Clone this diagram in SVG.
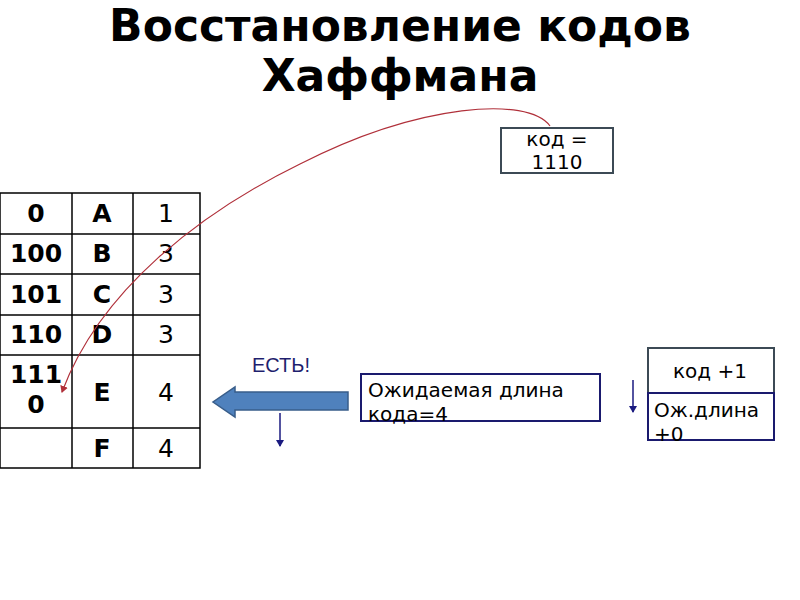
<svg xmlns="http://www.w3.org/2000/svg" width="800" height="600" viewBox="0 0 800 600">
<defs>
<style>
.title{font-family:"DejaVu Sans",sans-serif;font-weight:bold;font-size:44px;fill:#000;text-anchor:middle}
.cb{font-family:"DejaVu Sans",sans-serif;font-weight:bold;font-size:25px;fill:#000;text-anchor:middle}
.cn{font-family:"DejaVu Sans",sans-serif;font-size:25px;fill:#000;text-anchor:middle}
.t{font-family:"DejaVu Sans",sans-serif;font-size:20px;fill:#000}
.grid{stroke:#000;stroke-width:1.5;fill:none}
</style>
<marker id="red" markerWidth="8" markerHeight="8" refX="6" refY="4" orient="auto" markerUnits="userSpaceOnUse">
<path d="M0,0 L7,4 L0,8 Z" fill="#b0303a"/>
</marker>
<marker id="navy" markerWidth="8" markerHeight="8" refX="6" refY="4" orient="auto" markerUnits="userSpaceOnUse">
<path d="M0,0 L7,4 L0,8 Z" fill="#1a1a80"/>
</marker>
</defs>
<rect width="800" height="600" fill="#fff"/>
<g id="title">
<text class="title" x="400" y="41">Восстановление кодов</text>
<text class="title" x="400" y="91">Хаффмана</text>
</g>
<g id="table">
<rect class="grid" x="0" y="193" width="200" height="275"/>
<line class="grid" x1="72" y1="193" x2="72" y2="468"/>
<line class="grid" x1="133" y1="193" x2="133" y2="468"/>
<line class="grid" x1="0" y1="234" x2="200" y2="234"/>
<line class="grid" x1="0" y1="274" x2="200" y2="274"/>
<line class="grid" x1="0" y1="315" x2="200" y2="315"/>
<line class="grid" x1="0" y1="355" x2="200" y2="355"/>
<line class="grid" x1="0" y1="428" x2="200" y2="428"/>
<text class="cb" x="36" y="222">0</text>
<text class="cb" x="102" y="222">A</text>
<text class="cn" x="166" y="222">1</text>
<text class="cb" x="36" y="262">100</text>
<text class="cb" x="102" y="262">B</text>
<text class="cn" x="166" y="262">3</text>
<text class="cb" x="36" y="303">101</text>
<text class="cb" x="102" y="303">C</text>
<text class="cn" x="166" y="303">3</text>
<text class="cb" x="36" y="343">110</text>
<text class="cb" x="102" y="343">D</text>
<text class="cn" x="166" y="343">3</text>
<text class="cb" x="36" y="383">111</text>
<text class="cb" x="36" y="413">0</text>
<text class="cb" x="102" y="401">E</text>
<text class="cn" x="166" y="401">4</text>
<text class="cb" x="102" y="457">F</text>
<text class="cn" x="166" y="457">4</text>
</g>
<g id="code-box">
<rect x="501" y="128" width="112" height="45" fill="#fff" stroke="#3c4a55" stroke-width="2"/>
<text class="t" x="557" y="146" text-anchor="middle">код =</text>
<text class="t" x="557" y="169" text-anchor="middle">1110</text>
</g>
<g id="expected-box">
<rect x="361" y="374" width="239" height="47" fill="none" stroke="#1a1a6e" stroke-width="2"/>
<text class="t" x="368" y="397">Ожидаемая длина</text>
<text class="t" x="368" y="421">кода=4</text>
</g>
<g id="right-box">
<rect x="648" y="348" width="126" height="45" fill="none" stroke="#3c4a55" stroke-width="2"/>
<rect x="648" y="393" width="126" height="47" fill="none" stroke="#1a1a6e" stroke-width="2"/>
<text class="t" x="710" y="378" text-anchor="middle">код +1</text>
<text class="t" x="654" y="417">Ож.длина</text>
<text class="t" x="654" y="441">+0</text>
</g>
<g id="est-label">
<text x="281" y="372" font-family="Liberation Sans, sans-serif" font-size="20" fill="#1f1f6e" text-anchor="middle">ЕСТЬ!</text>
</g>
<g id="connectors">
<path d="M550,126 C528,96 420,103 300,164 C200,213 100,290 62,392" fill="none" stroke="#b0303a" stroke-width="1.2" marker-end="url(#red)"/>
<path d="M348,392 L235,392 L235,387 L213,402 L235,417 L235,410 L348,410 Z" fill="#4f81bd" stroke="#385d8a" stroke-width="1.5"/>
<line x1="280" y1="413" x2="280" y2="446" stroke="#1a1a80" stroke-width="1.5" marker-end="url(#navy)"/>
<line x1="633" y1="380" x2="633" y2="412" stroke="#1a1a80" stroke-width="1.5" marker-end="url(#navy)"/>
</g>
</svg>
